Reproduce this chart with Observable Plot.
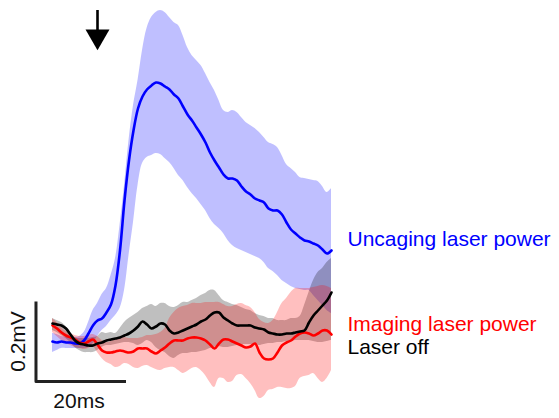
<!DOCTYPE html>
<html>
<head>
<meta charset="utf-8">
<script src="https://cdn.jsdelivr.net/npm/d3@7"></script>
<script src="https://cdn.jsdelivr.net/npm/@observablehq/plot@0.6"></script>
<style>
  html, body { margin: 0; padding: 0; background: #fff; }
  #chart svg { display: block; }
</style>
</head>
<body>
<div id="chart"></div>
<script>
// Time since trace start (ms)
const timeMs = [0,1,2,3,4,5,6,7,8,9,10,11,12,13,14,15,16,17,18,19,20,21,22,23,24,25,26,27,28,29,30,31,32,33,34,35,36,37,38,39,40,41,42,43,44,45,46,47,48,49,50,51,52,53,54,55,56,57,58,59,60,61,62];

// Uncaging laser power (µV): mean, upper and lower band
const uncagingMean = [-2.5,-5,-2.5,-5,-5,-7.5,-7.5,0,17.5,37.5,50,55,70,90,137.5,225,350,450,525,580,610,627.5,637.5,645,642.5,635,627.5,615,605,585,565,550,532.5,515,495,470,450,432.5,415,405,405,400,385,372.5,365,355,350,345,330,325,325,315,295,277.5,267.5,257.5,250,247.5,242.5,237.5,227.5,217.5,225];
const uncagingHigh = [17.5,15,10,7.5,7.5,7.5,10,20,45,75,92.5,115,130,162.5,205,287.5,387.5,500,587.5,650,725,780,807.5,820,825,820,807.5,795,787.5,762.5,732.5,712.5,700,687.5,667.5,645,625,600,575,570,575,570,557.5,545,537.5,530,520,507.5,495,490,482.5,462.5,440,430,420,407.5,405,402.5,400,397.5,385,370,380];
const uncagingLow = [-30,-25,-20,-20,-20,-20,-20,-20,-17.5,-7.5,10,25,35,50,62.5,80,125,212.5,295,387.5,442.5,457.5,462.5,467.5,465,455,445,430,412.5,400,382.5,367.5,355,340,325,305,290,280,267.5,250,237.5,230,225,220,215,210,205,195,180,172.5,162.5,150,142.5,135,130,127.5,125,125,112.5,100,87.5,75,67.5];

// Imaging laser power (µV)
const imagingMean = [37.5,30,20,12.5,7.5,2.5,-5,-7.5,-2.5,2.5,-10,-25,-30,-30,-27.5,-25,-27.5,-30,-27.5,-20,-20,-20,-27.5,-32.5,-25,-17.5,-7.5,0,0,0,5,7.5,7.5,5,0,-10,-20,-7.5,2.5,2.5,-2.5,-7.5,-12.5,-17.5,-15,-7.5,-30,-45,-47.5,-45,-30,-12.5,-5,0,10,17.5,20,17.5,12.5,17.5,25,25,15];
const imagingHigh = [55,45,32.5,22.5,17.5,12.5,10,10,12.5,15,10,0,-5,-2.5,2.5,5,7.5,5,5,5,7.5,12.5,12.5,15,20,30,55,70,80,85,87.5,92.5,92.5,92.5,95,95,95,95,90,85,85,90,92.5,87.5,82.5,70,52.5,45,42.5,50,70,92.5,105,120,130,130,130,130,132.5,135,137.5,135,130];
const imagingLow = [20,10,0,-7.5,-12.5,-17.5,-20,-22.5,-20,-15,-30,-45,-55,-60,-67.5,-65,-57.5,-60,-67.5,-70,-65,-62.5,-67.5,-72.5,-75,-70,-67.5,-67.5,-75,-82.5,-77.5,-70,-67.5,-75,-87.5,-105,-117.5,-95,-95,-105,-102.5,-87.5,-85,-95,-107.5,-125,-145,-140,-125,-122.5,-117.5,-117.5,-120,-120,-115,-95,-90,-87.5,-82.5,-95,-105,-95,-75];

// Laser off (µV)
const offMean = [42.5,40,37.5,30,15,0,-7.5,-10,-12.5,-12.5,-7.5,-5,0,2.5,5,7.5,12.5,17.5,25,35,47.5,40,30,35,42.5,40,25,17.5,20,25,30,35,40,47.5,52.5,62.5,70,70,57.5,50,42.5,37.5,37.5,37.5,37.5,32.5,30,27.5,20,17.5,15,15,17.5,17.5,20,22.5,25,45,62.5,75,87.5,100,120];
const offHigh = [55,50,45,35,20,7.5,5,5,5,7.5,10,20,17.5,20,17.5,30,45,55,62.5,70,80,85,90,85,92.5,92.5,85,82.5,87.5,95,95,100,105,112.5,117.5,125,125,112.5,100,95,90,87.5,82.5,77.5,75,67.5,62.5,60,55,55,50,50,50,55,55,60,87.5,120,150,170,180,195,205];
const offLow = [25,20,12.5,5,-5,-17.5,-25,-30,-30,-30,-25,-17.5,-12.5,-12.5,-10,-7.5,-5,-5,-7.5,-12.5,-7.5,0,-5,-17.5,-25,-30,-40,-45,-37.5,-32.5,-32.5,-30,-30,-27.5,-25,-20,-17.5,-15,-17.5,-17.5,-15,-12.5,-10,-10,-10,-10,-12.5,-10,-7.5,-7.5,-5,-5,-2.5,-2.5,0,0,0,0,-2.5,-5,-5,-2.5,0];

const seriesNames = ["Uncaging laser power", "Imaging laser power", "Laser off"];
const seriesColors = ["#0000ff", "#ff0000", "#000000"];
const labelValues = [254, 41.5, -16];   // µV level at which each label sits

const stimTimeMs = 10;           // stimulus (arrow)
const scaleBarMs = 20;
const scaleBarUV = 200;
const scaleBarLabels = ["20ms", "0.2mV"];

// ---- build tables ----
function table(mean, low, high) {
  return timeMs.map((t, i) => ({t, mean: mean[i], low: low[i], high: high[i]}));
}
const uncaging = table(uncagingMean, uncagingLow, uncagingHigh);
const imaging = table(imagingMean, imagingLow, imagingHigh);
const off = table(offMean, offLow, offHigh);

const lastT = timeMs[timeMs.length - 1];
const labels = seriesNames.map((name, i) => ({name, t: lastT, v: labelValues[i], color: seriesColors[i]}));

// scale bar anchor (corner) placed left of and below traces
const sbT0 = -3.67, sbV0 = -102.5;
const scaleBar = [
  {t: sbT0, v: sbV0 + scaleBarUV},
  {t: sbT0, v: sbV0},
  {t: sbT0 + scaleBarMs, v: sbV0}
];

const font = "Liberation Sans, Arial, Helvetica, sans-serif";
const curve = "catmull-rom";
const fs = 21;

const chart = Plot.plot({
  width: 559,
  height: 418,
  margin: 0,
  x: {domain: [-52 / 4.5, 507 / 4.5], axis: null},
  y: {domain: [-195, 850], axis: null},
  style: {background: "#fff", fontFamily: font},
  marks: [
    Plot.areaY(uncaging, {x: "t", y1: "low", y2: "high", fill: "#0000ff", fillOpacity: 0.25, curve}),
    Plot.areaY(off, {x: "t", y1: "low", y2: "high", fill: "#000000", fillOpacity: 0.25, curve}),
    Plot.areaY(imaging, {x: "t", y1: "low", y2: "high", fill: "#ff0000", fillOpacity: 0.25, curve}),
    Plot.line(uncaging, {x: "t", y: "mean", stroke: "#0000ff", strokeWidth: 2.6, curve}),
    Plot.line(imaging, {x: "t", y: "mean", stroke: "#ff0000", strokeWidth: 2.6, curve}),
    Plot.line(off, {x: "t", y: "mean", stroke: "#000000", strokeWidth: 2.6, curve}),
    // series labels
    Plot.text(labels, {x: "t", y: "v", text: "name", fill: "color", textAnchor: "start", dx: 16, fontSize: fs}),
    // scale bar
    Plot.line(scaleBar, {x: "t", y: "v", stroke: "#222", strokeWidth: 3, strokeLinecap: "butt"}),
    Plot.text([scaleBarLabels[0]], {x: sbT0 + scaleBarMs / 2, y: sbV0, text: d => d, lineAnchor: "top", dy: 12, dx: -2, fontSize: fs, fill: "#111"}),
    Plot.text([scaleBarLabels[1]], {x: sbT0, y: sbV0 + scaleBarUV / 2, text: d => d, rotate: -90, dx: -18, fontSize: fs, fill: "#111"}),
    // stimulus arrow
    Plot.ruleX([stimTimeMs], {y1: 825, y2: 765, stroke: "#000", strokeWidth: 2.6}),
    Plot.dot([stimTimeMs], {x: d => d, y: 760, symbol: "triangle", rotate: 180, r: 8.9, fill: "#000", stroke: null})
  ]
});
document.getElementById("chart").appendChild(chart);
</script>
</body>
</html>
